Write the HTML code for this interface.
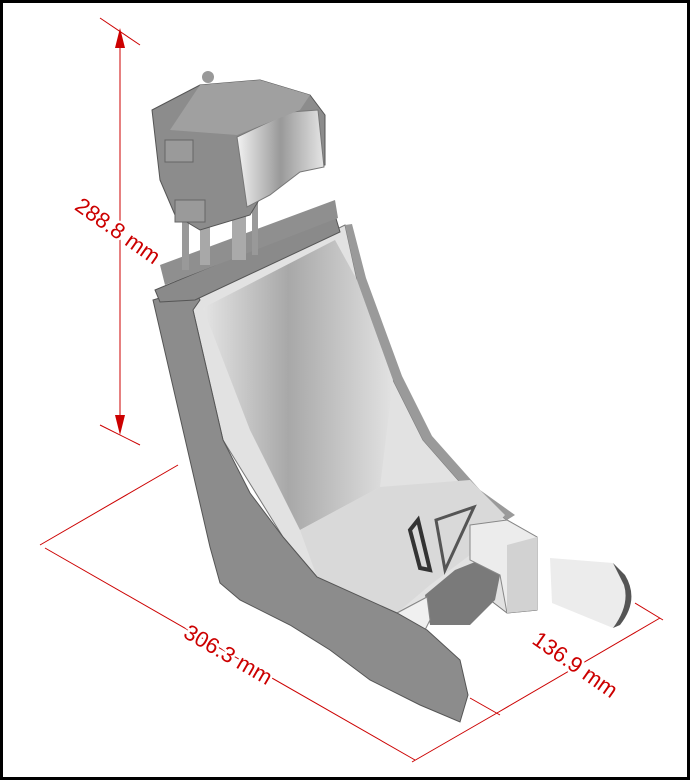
<!DOCTYPE html>
<html><head><meta charset="utf-8"><style>
html,body{margin:0;padding:0;background:#fff}
.f{position:absolute;left:0;top:0;width:690px;height:780px;box-sizing:border-box;border:3px solid #000;overflow:hidden}
</style></head><body><div class="f">
<svg width="690" height="780" viewBox="0 0 690 780" style="position:absolute;left:-3px;top:-3px">
<defs>
<linearGradient id="back" x1="0" y1="0" x2="1" y2="0"><stop offset="0" stop-color="#e4e4e4"/><stop offset="0.45" stop-color="#a8a8a8"/><stop offset="1" stop-color="#e2e2e2"/></linearGradient>
<linearGradient id="head" x1="0" y1="0" x2="1" y2="0"><stop offset="0" stop-color="#f2f2f2"/><stop offset="0.5" stop-color="#999"/><stop offset="1" stop-color="#e5e5e5"/></linearGradient>
</defs>
<!-- seat shell light -->
<polygon points="193,300 345,225 357,280 393,380 423,440 473,497 507,520 537,537 537,610 507,613 490,600 427,597 397,613 317,577 283,537 223,440 193,310" fill="#e2e2e2" stroke="#777"/>
<!-- right shell edge -->
<path d="M345,225 L357,280 L393,380 L423,440 L473,497 L507,520 L515,515 L480,490 L432,436 L402,376 L366,278 L352,224 Z" fill="#9a9a9a"/>
<!-- back cushion -->
<polygon points="203,308 335,240 357,280 393,380 380,487 300,530 250,430" fill="url(#back)"/>
<!-- seat pan -->
<polygon points="300,530 380,487 470,480 505,515 470,555 430,585 397,613 317,577" fill="#d9d9d9"/>
<!-- dark under pan -->
<polygon points="425,595 455,570 480,560 500,575 495,600 470,625 430,625" fill="#7a7a7a"/>
<polygon points="397,613 427,597 430,620 420,640 400,640" fill="#f0f0f0" stroke="#888"/>
<!-- front box -->
<polygon points="470,525 507,520 537,537 537,610 507,613 500,575 470,560" fill="#ececec" stroke="#888"/>
<polygon points="507,545 537,537 537,610 507,613" fill="#d2d2d2"/>
<!-- side panel -->
<polygon points="153,300 193,288 200,300 193,310 223,440 250,493 283,537 317,577 397,613 427,630 460,660 468,695 460,722 420,705 370,680 330,650 290,625 240,600 220,583 210,547" fill="#8c8c8c" stroke="#555"/>
<!-- right foot plate -->
<polygon points="550,558 613,563 630,587 627,613 613,628 552,603" fill="#ececec"/>
<path d="M613,563 L625,575 Q640,600 620,625 L613,628 Q630,605 624,585 Z" fill="#555"/>
<!-- handle -->
<path d="M410,530 L418,520 L430,570 L420,568 Z" fill="none" stroke="#333" stroke-width="4"/>
<path d="M436,520 L474,507 L445,570 Z" fill="none" stroke="#555" stroke-width="3"/>
<!-- top beam -->
<polygon points="155,290 335,215 340,232 195,300 160,302" fill="#8a8a8a" stroke="#555"/>
<polygon points="160,265 335,200 338,218 165,285" fill="#8f8f8f"/>
<!-- rods -->
<rect x="182" y="200" width="7" height="70" fill="#999"/>
<rect x="200" y="195" width="10" height="70" fill="#a8a8a8"/>
<rect x="232" y="200" width="14" height="60" fill="#aaa"/>
<rect x="252" y="200" width="6" height="55" fill="#999"/>
<!-- headbox -->
<polygon points="152,110 200,85 260,80 310,95 325,115 325,165 300,170 265,190 250,215 200,230 175,215 160,180" fill="#8c8c8c" stroke="#555"/>
<polygon points="237,137 290,112 318,110 324,167 300,172 270,195 247,207" fill="url(#head)" stroke="#777"/>
<polygon points="200,85 260,80 310,95 300,110 237,135 170,130" fill="#a0a0a0"/>
<circle cx="208" cy="77" r="6" fill="#999"/>
<rect x="165" y="140" width="28" height="22" fill="#9a9a9a" stroke="#666"/>
<rect x="175" y="200" width="30" height="22" fill="#9a9a9a" stroke="#666"/>
<!-- dimensions -->
<g stroke="#c00" stroke-width="1" fill="#c00">
<line x1="100" y1="18" x2="140" y2="45"/>
<line x1="100" y1="425" x2="140" y2="445"/>
<line x1="120" y1="30" x2="120" y2="433"/>
<polygon points="120,28 115,48 125,48" stroke="none"/>
<polygon points="120,435 115,415 125,415" stroke="none"/>
<line x1="45" y1="548" x2="415" y2="760"/>
<line x1="40" y1="545" x2="178" y2="465"/>
<line x1="412" y1="762" x2="497" y2="713"/>
<line x1="470" y1="698" x2="500" y2="715"/>
<line x1="497" y1="713" x2="660" y2="618"/>
<line x1="635" y1="603" x2="663" y2="620"/>
</g>
<g fill="#c00" font-family="Liberation Sans, sans-serif" font-size="22">
<text x="117" y="238" text-anchor="middle" transform="rotate(35 117 232)" stroke="#fff" stroke-width="5" paint-order="stroke">288.8 mm</text>
<text x="228" y="662" text-anchor="middle" transform="rotate(30 228 655)" stroke="#fff" stroke-width="5" paint-order="stroke">306.3 mm</text>
<text x="575" y="672" text-anchor="middle" transform="rotate(35 575 665)" stroke="#fff" stroke-width="5" paint-order="stroke">136.9 mm</text>
</g>
</svg></div></body></html>
